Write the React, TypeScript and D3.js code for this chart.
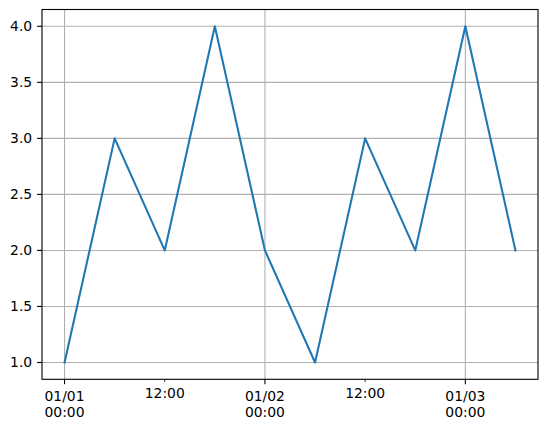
import { useEffect, useRef } from "react";
import * as d3 from "d3";

// timestamps every 6 hours
const times = [
	"2024-01-01T00:00",
	"2024-01-01T06:00",
	"2024-01-01T12:00",
	"2024-01-01T18:00",
	"2024-01-02T00:00",
	"2024-01-02T06:00",
	"2024-01-02T12:00",
	"2024-01-02T18:00",
	"2024-01-03T00:00",
	"2024-01-03T06:00",
];
const values = [1, 3, 2, 4, 2, 1, 3, 2, 4, 2];
const yTicks = [1.0, 1.5, 2.0, 2.5, 3.0, 3.5, 4.0];
const majorTicks = ["2024-01-01T00:00", "2024-01-02T00:00", "2024-01-03T00:00"];
const minorTicks = ["2024-01-01T12:00", "2024-01-02T12:00"];

const parse = d3.utcParse("%Y-%m-%dT%H:%M");

const App = () => {
	const svgRef = useRef<SVGSVGElement>(null);

	useEffect(() => {
		if (!svgRef.current) return;
		const svg = d3.select(svgRef.current);
		svg.selectAll("*").remove();

		const width = 547;
		const height = 429;
		const plot = { left: 42, right: 538, top: 9.5, bottom: 379.3 };
		const font = "DejaVu Sans, sans-serif";

		const data = times.map((t, i) => ({ t: parse(t) as Date, v: values[i] }));
		const t0 = data[0].t.getTime();
		const t1 = data[data.length - 1].t.getTime();
		const padT = (t1 - t0) * 0.05;

		const x = d3
			.scaleUtc()
			.domain([new Date(t0 - padT), new Date(t1 + padT)])
			.range([plot.left, plot.right]);
		const y = d3
			.scaleLinear()
			.domain([1 - 0.15, 4 + 0.15])
			.range([plot.bottom, plot.top]);

		svg.attr("width", width).attr("height", height);
		svg.append("rect").attr("width", width).attr("height", height).attr("fill", "#fff");

		// grille
		const grid = svg.append("g").attr("stroke", "#b0b0b0").attr("stroke-width", 1.1);
		majorTicks.forEach((s) => {
			const xx = x(parse(s) as Date);
			grid.append("line").attr("x1", xx).attr("x2", xx).attr("y1", plot.top).attr("y2", plot.bottom);
		});
		yTicks.forEach((v) => {
			grid.append("line").attr("x1", plot.left).attr("x2", plot.right).attr("y1", y(v)).attr("y2", y(v));
		});

		// courbe
		const line = d3
			.line<{ t: Date; v: number }>()
			.x((d) => x(d.t))
			.y((d) => y(d.v));
		svg
			.append("path")
			.datum(data)
			.attr("d", line)
			.attr("fill", "none")
			.attr("stroke", "#1f77b4")
			.attr("stroke-width", 2.08)
			.attr("stroke-linejoin", "round")
			.attr("stroke-linecap", "square");

		// cadre
		svg
			.append("rect")
			.attr("x", plot.left)
			.attr("y", plot.top)
			.attr("width", plot.right - plot.left)
			.attr("height", plot.bottom - plot.top)
			.attr("fill", "none")
			.attr("stroke", "#000")
			.attr("stroke-width", 1.1);

		// axe y
		const fmtY = d3.format(".1f");
		yTicks.forEach((v) => {
			const yy = y(v);
			svg.append("line").attr("x1", plot.left - 4.9).attr("x2", plot.left).attr("y1", yy).attr("y2", yy).attr("stroke", "#000").attr("stroke-width", 1.1);
			svg
				.append("text")
				.attr("x", plot.left - 9.8)
				.attr("y", yy)
				.attr("dy", "0.35em")
				.attr("text-anchor", "end")
				.attr("font-family", font)
				.attr("font-size", 13.9)
				.attr("fill", "#000")
				.text(fmtY(v));
		});

		// axe x : ticks majeurs
		const fmtDay = d3.utcFormat("%m/%d");
		const fmtHour = d3.utcFormat("%H:%M");
		majorTicks.forEach((s) => {
			const d = parse(s) as Date;
			const xx = x(d);
			svg.append("line").attr("x1", xx).attr("x2", xx).attr("y1", plot.bottom).attr("y2", plot.bottom + 4.9).attr("stroke", "#000").attr("stroke-width", 1.1);
			const txt = svg
				.append("text")
				.attr("text-anchor", "middle")
				.attr("font-family", font)
				.attr("font-size", 13.9)
				.attr("fill", "#000");
			txt.append("tspan").attr("x", xx).attr("y", 401).text(fmtDay(d));
			txt.append("tspan").attr("x", xx).attr("y", 417).text(fmtHour(d));
		});
		// ticks mineurs
		minorTicks.forEach((s) => {
			const d = parse(s) as Date;
			const xx = x(d);
			svg.append("line").attr("x1", xx).attr("x2", xx).attr("y1", plot.bottom).attr("y2", plot.bottom + 2.8).attr("stroke", "#000").attr("stroke-width", 0.8);
			svg
				.append("text")
				.attr("x", xx)
				.attr("y", 397.7)
				.attr("text-anchor", "middle")
				.attr("font-family", font)
				.attr("font-size", 13.9)
				.attr("fill", "#000")
				.text(fmtHour(d));
		});
	}, []);

	return <svg ref={svgRef} style={{ display: "block", position: "absolute", left: 0, top: 0 }}></svg>;
};

export default App;
